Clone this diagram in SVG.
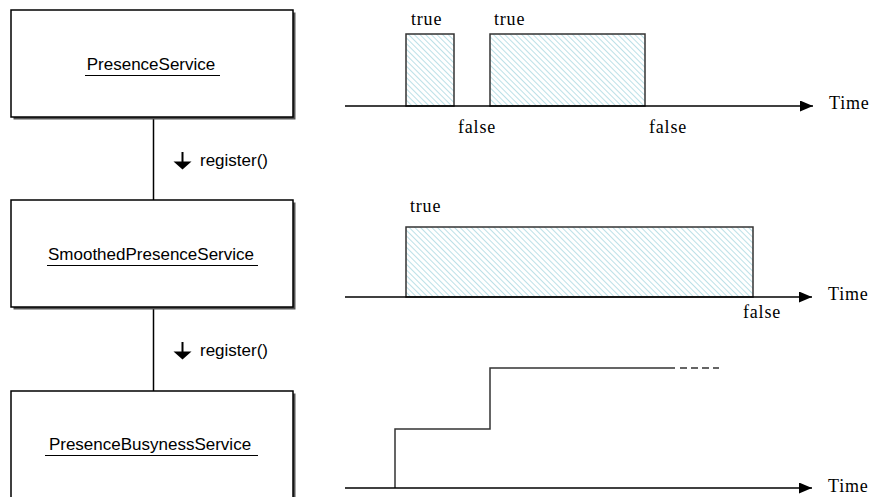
<svg xmlns="http://www.w3.org/2000/svg" width="871" height="497" viewBox="0 0 871 497">
<defs>
<style>
.box{fill:#fff;stroke:#000;stroke-width:1.5}
.shadow{fill:#555}
.lbl{font-family:"Liberation Sans",Arial,sans-serif;font-size:17px;fill:#000}
.ul{stroke:#000;stroke-width:1.2}
.ser{font-family:"Liberation Serif","Times New Roman",serif;font-size:18px;fill:#000;letter-spacing:0.8px}
.ax{stroke:#000;stroke-width:1.5;fill:none}
.sig{stroke:#333;stroke-width:1.5;fill:none}
.pulse{fill:url(#hatch);stroke:#333;stroke-width:1.5}
.conn{stroke:#000;stroke-width:1.5;fill:none}
</style>
<pattern id="hatch" patternUnits="userSpaceOnUse" width="4" height="4" patternTransform="rotate(-45)">
<rect width="4" height="4" fill="#fff"/>
<line x1="0" y1="0" x2="0" y2="4" stroke="#9fd3dd" stroke-width="1.4"/>
</pattern>
<marker id="ah" markerWidth="14" markerHeight="11" refX="13" refY="5.5" orient="auto" markerUnits="userSpaceOnUse">
<path d="M0,0 L13,5.5 L0,11 Z" fill="#000"/>
</marker>
</defs>

<g id="connectors">
<line class="conn" x1="153.5" y1="117" x2="153.5" y2="200"/>
<line class="conn" x1="153.5" y1="307" x2="153.5" y2="391"/>
<g id="reg1">
<line x1="182.5" y1="152" x2="182.5" y2="163" stroke="#000" stroke-width="2"/>
<path d="M173.5,161.5 L191.5,161.5 L182.5,169.5 Z" fill="#000"/>
<text class="lbl" x="200" y="166">register()</text>
</g>
<g id="reg2">
<line x1="182.5" y1="342" x2="182.5" y2="353" stroke="#000" stroke-width="2"/>
<path d="M173.5,351.5 L191.5,351.5 L182.5,359.5 Z" fill="#000"/>
<text class="lbl" x="200" y="356">register()</text>
</g>
</g>

<g id="presenceService">
<rect class="shadow" x="13.5" y="12.5" width="282" height="107"/>
<rect class="box" x="11" y="10" width="282" height="107"/>
<text class="lbl" x="151" y="70" text-anchor="middle">PresenceService</text>
<line class="ul" x1="85" y1="75.5" x2="220" y2="75.5"/>
</g>

<g id="smoothedPresenceService">
<rect class="shadow" x="13.5" y="202.5" width="282" height="107"/>
<rect class="box" x="11" y="200" width="282" height="107"/>
<text class="lbl" x="151" y="260" text-anchor="middle">SmoothedPresenceService</text>
<line class="ul" x1="47" y1="265.5" x2="258" y2="265.5"/>
</g>

<g id="presenceBusynessService">
<rect class="shadow" x="13.5" y="393.5" width="282" height="110"/>
<rect class="box" x="11" y="391" width="282" height="110"/>
<text class="lbl" x="150" y="450" text-anchor="middle">PresenceBusynessService</text>
<line class="ul" x1="45" y1="455.5" x2="258" y2="455.5"/>
</g>

<g id="chart1">
<rect class="pulse" x="406" y="34" width="48" height="72"/>
<rect class="pulse" x="490" y="34" width="155" height="72"/>
<line class="ax" x1="345" y1="106" x2="813" y2="106" marker-end="url(#ah)"/>
<text class="ser" x="411" y="25">true</text>
<text class="ser" x="494" y="25">true</text>
<text class="ser" x="458" y="133">false</text>
<text class="ser" x="649" y="133">false</text>
<text class="ser" x="829" y="109">Time</text>
</g>

<g id="chart2">
<rect class="pulse" x="406" y="227" width="347" height="70"/>
<line class="ax" x1="345" y1="297" x2="812" y2="297" marker-end="url(#ah)"/>
<text class="ser" x="410" y="212">true</text>
<text class="ser" x="743" y="318">false</text>
<text class="ser" x="828" y="300">Time</text>
</g>

<g id="chart3">
<path class="sig" d="M395,488 V429 H490 V368 H675"/>
<path d="M680,368 H719" stroke="#333" stroke-width="1.5" stroke-dasharray="7,4"/>
<line class="ax" x1="345" y1="488" x2="812" y2="488" marker-end="url(#ah)"/>
<text class="ser" x="828" y="492">Time</text>
</g>
</svg>
